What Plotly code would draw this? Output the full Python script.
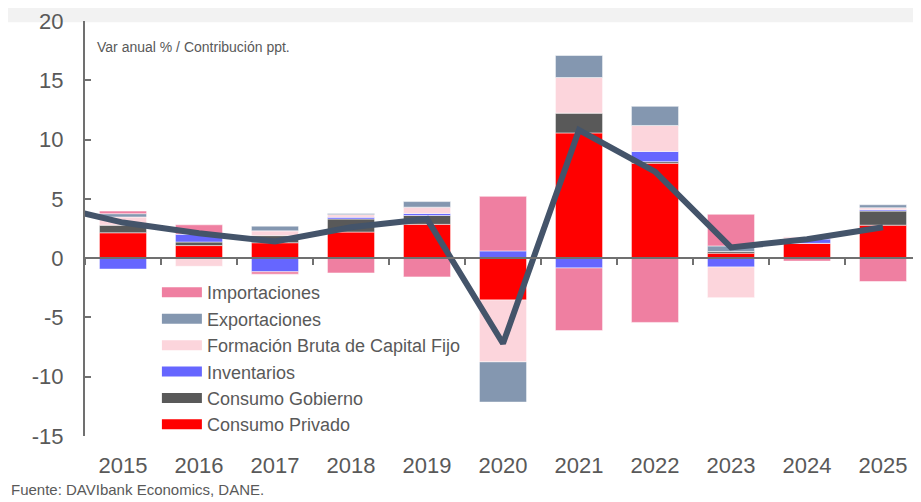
import plotly.graph_objects as go

# datos (contribucion en puntos porcentuales)
years = ['2015', '2016', '2017', '2018', '2019', '2020', '2021', '2022', '2023', '2024', '2025']
consumo_privado = [2.14, 1.06, 1.3, 2.2, 2.85, -3.53, 10.56, 8.0, 0.42, 1.25, 2.78]
consumo_gobierno = [0.64, 0.3, 0.6, 1.1, 0.75, 0.0, 1.67, 0.14, 0.14, 0.0, 1.19]
inventarios = [-0.92, 0.67, -1.15, 0.15, 0.17, 0.61, -0.83, 0.86, -0.75, 0.36, 0.11]
fbcf = [0.69, -0.69, 0.4, 0.22, 0.53, -5.22, 3.0, 2.19, -2.58, 0.19, 0.17]
exportaciones = [0.28, 0.0, 0.4, 0.1, 0.47, -3.39, 1.86, 1.61, 0.47, 0.0, 0.25]
importaciones = [0.22, 0.78, -0.2, -1.25, -1.58, 4.6, -5.28, -5.42, 2.67, -0.25, -1.97]

# PIB, var anual % (la serie arranca en 2014, fuera del area visible)
pib_years = ['2014'] + years
pib = [4.5, 3.0, 2.1, 1.4, 2.6, 3.3, -7.2, 10.8, 7.3, 0.9, 1.6, 2.6]

y_ticks = [-15, -10, -5, 0, 5, 10, 15, 20]

series = [
    ('Consumo Privado', consumo_privado, '#FF0000'),
    ('Consumo Gobierno', consumo_gobierno, '#595959'),
    ('Inventarios', inventarios, '#6666FF'),
    ('Formación Bruta de Capital Fijo', fbcf, '#FCD5DC'),
    ('Exportaciones', exportaciones, '#8497B0'),
    ('Importaciones', importaciones, '#EF7FA1'),
]

txt = '#595959'
font = 'Arial, Liberation Sans, sans-serif'

fig = go.Figure()

for name, vals, color in series:
    fig.add_trace(go.Bar(
        x=years, y=vals, name=name, legendgroup=name, showlegend=False,
        marker=dict(color=color, line=dict(color='rgba(255,255,255,0.5)', width=1)),
    ))

# entradas de leyenda con simbolo ancho
for name, vals, color in series:
    fig.add_trace(go.Scatter(
        x=[None], y=[None], mode='lines', name=name, legendgroup=name,
        line=dict(color=color, width=11), hoverinfo='skip',
    ))

fig.add_trace(go.Scatter(
    x=pib_years, y=pib, mode='lines', name='PIB', showlegend=False,
    line=dict(color='#44546A', width=6),
))

# eje auxiliar para la linea del cero con marcas entre categorias
fig.add_trace(go.Scatter(
    x=years, y=[None] * len(years), xaxis='x2', mode='lines',
    showlegend=False, hoverinfo='skip',
))

# la pagina tiene 8px de margen en body: la figura se corre 8px
cats = pib_years
fig.update_layout(
    width=913, height=494,
    margin=dict(l=77, r=0, t=13, b=66),
    paper_bgcolor='white', plot_bgcolor='white',
    barmode='relative', bargap=0.38,
    font=dict(family=font, color=txt),
    xaxis=dict(
        type='category', categoryorder='array', categoryarray=cats,
        range=[0.5, 11.5], showgrid=False, showline=False, ticks='',
        tickfont=dict(size=22, color=txt), ticklabelstandoff=14,
        automargin=False,
    ),
    xaxis2=dict(
        type='category', categoryorder='array', categoryarray=cats,
        range=[0.5, 11.5], overlaying='x', anchor='free', position=15 / 35,
        showgrid=False, showline=True, linecolor='#707070', linewidth=2,
        ticks='outside', tickson='boundaries', ticklen=6, tickwidth=2,
        tickcolor='#707070', showticklabels=False, automargin=False,
    ),
    yaxis=dict(
        range=[-15, 20], tickvals=y_ticks, ticktext=[str(v) for v in y_ticks],
        showgrid=False, zeroline=False, showline=True, linecolor='#707070',
        linewidth=2, ticks='inside', ticklen=6, tickwidth=2, tickcolor='#707070',
        tickfont=dict(size=22, color=txt), ticklabelstandoff=15,
        ticklabeloverflow='allow', automargin=False,
    ),
    legend=dict(
        x=0.086, y=0.39, xanchor='left', yanchor='top',
        traceorder='reversed', bgcolor='rgba(0,0,0,0)',
        font=dict(size=18, color=txt), tracegroupgap=0, itemwidth=40,
    ),
    shapes=[dict(
        type='rect', xref='paper', yref='paper',
        x0=-0.1, x1=1.0, y0=0.997, y1=1.035,
        fillcolor='#F2F2F2', line=dict(width=0), layer='below',
    )],
    annotations=[
        dict(text='Var anual % / Contribución ppt.', xref='paper', yref='paper',
             x=0.012, y=0.937, xanchor='left', yanchor='middle', showarrow=False,
             font=dict(size=14, color=txt)),
        dict(text='Fuente: DAVIbank Economics, DANE.', xref='paper', yref='paper',
             x=-0.091, y=-0.13, xanchor='left', yanchor='middle', showarrow=False,
             font=dict(size=15, color=txt)),
    ],
)

fig.write_html("out.html")
